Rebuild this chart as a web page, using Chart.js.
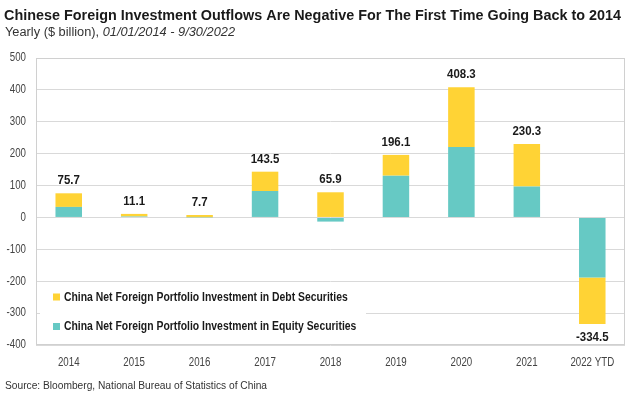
<!DOCTYPE html>
<html>
<head>
<meta charset="utf-8">
<script src="https://cdn.jsdelivr.net/npm/chart.js@4"></script>
<style>
  html, body { margin: 0; padding: 0; background: #fff; }
</style>
</head>
<body>
<canvas id="chart" width="635" height="399"></canvas>
<script>
const years = ['2014', '2015', '2016', '2017', '2018', '2019', '2020', '2021', '2022 YTD'];
const equity = [33, 3, 0.5, 83, -13, 131, 221, 97, -188];
const debt = [42.7, 8.1, 7.2, 60.5, 78.9, 65.1, 187.3, 133.3, -146.5];
const totals = [75.7, 11.1, 7.7, 143.5, 65.9, 196.1, 408.3, 230.3, -334.5];
const yTicks = [500, 400, 300, 200, 100, 0, -100, -200, -300, -400];

const titleText = 'Chinese Foreign Investment Outflows Are Negative For The First Time Going Back to 2014';
const subtitleText = 'Yearly ($ billion), ';
const subtitleDates = '01/01/2014 - 9/30/2022';
const sourceText = 'Source: Bloomberg, National Bureau of Statistics of China';

const family = '"Liberation Sans", Arial, sans-serif';
const yellow = '#FFD335';
const teal = '#66C9C4';
const NARROW = 0.81; // Arial Narrow look: squeeze Liberation Sans horizontally

// draw text squeezed horizontally by sx
function squeezed(ctx, text, x, y, font, color, align, sx, baseline) {
    ctx.save();
    ctx.font = font;
    ctx.fillStyle = color;
    ctx.textAlign = align || 'left';
    ctx.textBaseline = baseline || 'alphabetic';
    ctx.translate(x, y);
    ctx.scale(sx, 1);
    ctx.fillText(text, 0, 0);
    ctx.restore();
}

// squeeze factor so that text fits a given width
function fitScale(ctx, text, font, width) {
    ctx.save();
    ctx.font = font;
    const w = ctx.measureText(text).width;
    ctx.restore();
    return width / w;
}

const chrome = {
    id: 'chrome',
    afterDraw(chart) {
        const { ctx, chartArea } = chart;
        const xs = chart.scales.x, ys = chart.scales.y;

        // frame
        ctx.save();
        ctx.strokeStyle = '#d0d0d0';
        ctx.lineWidth = 1;
        ctx.strokeRect(chartArea.left + 0.5, chartArea.top + 0.5, chartArea.right - chartArea.left - 1, chartArea.bottom - chartArea.top - 1);
        ctx.restore();

        // tick labels
        const tickFont = '12px ' + family;
        yTicks.forEach(v => squeezed(ctx, String(v), 26, ys.getPixelForValue(v), tickFont, '#444', 'right', NARROW, 'middle'));
        years.forEach((lab, i) => squeezed(ctx, lab, xs.getPixelForTick(i), 363, tickFont, '#444', 'center', NARROW, 'middle'));

        // totals above / below each stack
        const meta = chart.getDatasetMeta(0);
        const lblFont = 'bold 13.5px ' + family;
        totals.forEach((t, i) => {
            const x = meta.data[i].x;
            if (t >= 0) {
                const top = Math.max(equity[i], 0) + Math.max(debt[i], 0);
                squeezed(ctx, t.toFixed(1), x, ys.getPixelForValue(top) - 6, lblFont, '#1a1a1a', 'center', 0.85, 'bottom');
            } else {
                const bottom = Math.min(equity[i], 0) + Math.min(debt[i], 0);
                squeezed(ctx, t.toFixed(1), x, ys.getPixelForValue(bottom) + 6, lblFont, '#1a1a1a', 'center', 0.85, 'top');
            }
        });

        // legend inside the plot
        ctx.save();
        ctx.fillStyle = '#fff';
        ctx.fillRect(chartArea.left + 4, 285, 326, 56);
        ctx.restore();
        const items = [chart.data.datasets[1], chart.data.datasets[0]];
        items.forEach((ds, k) => {
            const ry = 296.5 + k * 29.5;
            ctx.fillStyle = ds.backgroundColor;
            ctx.fillRect(53, ry - 3, 7, 7);
            squeezed(ctx, ds.label, 64, ry + 0.5, 'bold 13px ' + family, '#1a1a1a', 'left', 0.8, 'middle');
        });

        // title, subtitle, source
        const tFont = 'bold 15px ' + family;
        squeezed(ctx, titleText, 4, 20, tFont, '#1a1a1a', 'left', fitScale(ctx, titleText, tFont, 617));
        const sFont = '12.5px ' + family, iFont = 'italic 12.5px ' + family;
        const w1 = fitScale(ctx, subtitleText, sFont, 1), w2 = fitScale(ctx, subtitleDates, iFont, 1);
        const ss = 230 / (1 / w1 + 1 / w2);
        squeezed(ctx, subtitleText, 5, 36, sFont, '#333', 'left', ss);
        squeezed(ctx, subtitleDates, 5 + ss / w1, 36, iFont, '#333', 'left', ss);
        const srcFont = '10px ' + family;
        squeezed(ctx, sourceText, 5, 388.5, srcFont, '#333', 'left', fitScale(ctx, sourceText, srcFont, 262));
    }
};

new Chart(document.getElementById('chart'), {
    type: 'bar',
    data: {
        labels: years,
        datasets: [
            { label: 'China Net Foreign Portfolio Investment in Equity Securities', data: equity, backgroundColor: teal, stack: 's' },
            { label: 'China Net Foreign Portfolio Investment in Debt Securities', data: debt, backgroundColor: yellow, stack: 's' }
        ]
    },
    options: {
        responsive: false,
        animation: false,
        layout: { padding: { top: 58, right: 10, left: 0, bottom: 0 } },
        plugins: {
            legend: { display: false },
            tooltip: { enabled: false }
        },
        datasets: { bar: { categoryPercentage: 1, barPercentage: 0.405 } },
        scales: {
            x: {
                stacked: true,
                grid: { display: false },
                border: { display: false },
                ticks: { display: false },
                afterFit: s => { s.height = 54; }
            },
            y: {
                stacked: true,
                min: -400,
                max: 500,
                afterBuildTicks: s => { s.ticks = yTicks.map(v => ({ value: v })); },
                grid: { color: '#d9d9d9', drawTicks: false },
                border: { display: false },
                ticks: { display: false },
                afterFit: s => { s.width = 36; }
            }
        }
    },
    plugins: [chrome]
});
</script>
</body>
</html>
